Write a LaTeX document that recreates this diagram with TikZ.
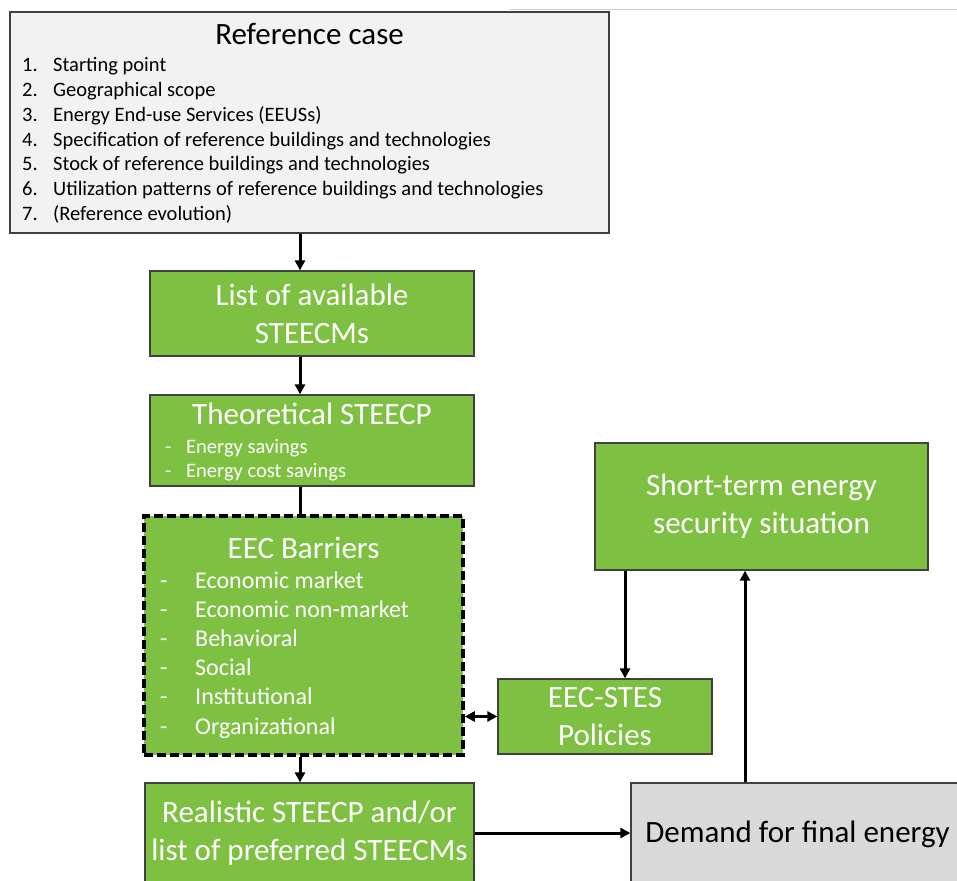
\documentclass[tikz,border=0pt]{standalone}
\usepackage{fontspec}
\setmainfont{Carlito}
\usetikzlibrary{arrows.meta}

\definecolor{boxgreen}{RGB}{126,193,66}
\definecolor{refgray}{RGB}{242,242,242}
\definecolor{demgray}{RGB}{217,217,217}

\tikzset{
  box/.style={draw=black!75, line width=1.3pt, inner sep=0pt},
  greenbox/.style={box, fill=boxgreen, text=white, align=center},
  bigtext/.style={font=\fontsize{31}{38}\selectfont},
  refitem/.style={anchor=base west, inner sep=0pt, font=\fontsize{20.5}{24}\selectfont},
  theoitem/.style={refitem, text=white, font=\fontsize{20.5}{24}\selectfont},
  barritem/.style={refitem, text=white, font=\fontsize{24}{28}\selectfont},
  flow/.style={line width=3pt, -{Triangle[length=10pt,width=10pt]}},
}

\begin{document}
\begin{tikzpicture}[x=1pt,y=-1pt]
  \useasboundingbox (0,0) rectangle (957,880);
  \clip (0,0) rectangle (957,880);
  \fill[white] (0,0) rectangle (957,880);

  \draw[black!20, line width=1pt] (510,10) -- (957,10);

  % reference case
  \node[box, fill=refgray, minimum width=599pt, minimum height=221pt] (ref) at (309.5,122.5) {};
  \node[bigtext] (reftitle) at (309.5,34) {Reference case};
  \foreach \txt [count=\i] in {Starting point, Geographical scope, {Energy End-use Services (EEUSs)},
      Specification of reference buildings and technologies, Stock of reference buildings and technologies,
      Utilization patterns of reference buildings and technologies, {(Reference evolution)}}
  {
    \node[refitem] (refnum\i) at (22,{72+24.67*(\i-1)}) {\i.};
    \node[refitem] (refitem\i) at (53,{72+24.67*(\i-1)}) {\txt};
  }

  % green boxes
  \node[greenbox, bigtext, minimum width=324pt, minimum height=85pt] (list) at (312,313.5) {List of available\\STEECMs};

  \node[greenbox, minimum width=324pt, minimum height=91pt] (theo) at (312,440.5) {};
  \node[bigtext, text=white] (theotitle) at (312,414) {Theoretical STEECP};
  \foreach \txt [count=\i] in {Energy savings, Energy cost savings}
  {
    \node[theoitem] (theodash\i) at (165,{453+24*(\i-1)}) {-};
    \node[theoitem] (theoitem\i) at (186,{453+24*(\i-1)}) {\txt};
  }

  \node[greenbox, draw=black, line width=3.5pt, dash pattern=on 9pt off 4pt,
        minimum width=319pt, minimum height=239pt] (barr) at (303.5,635.5) {};
  \node[bigtext, text=white] (barrtitle) at (303.5,548) {EEC Barriers};
  \foreach \txt [count=\i] in {Economic market, Economic non-market, Behavioral, Social, Institutional, Organizational}
  {
    \node[barritem] (barrdash\i) at (160,{588+29.2*(\i-1)}) {-};
    \node[barritem] (barritem\i) at (195,{588+29.2*(\i-1)}) {\txt};
  }

  \node[greenbox, bigtext, minimum width=329pt, minimum height=100pt] (real) at (309.5,833) {Realistic STEECP and/or\\list of preferred STEECMs};

  \node[greenbox, bigtext, minimum width=214pt, minimum height=75pt] (pol) at (605,716.5) {EEC-STES\\Policies};

  \node[greenbox, bigtext, minimum width=333pt, minimum height=127pt] (short) at (761.5,506.5) {Short-term energy\\security situation};

  \node[box, fill=demgray, bigtext, minimum width=333pt, minimum height=102pt] (dem) at (797.5,834) {Demand for final energy};

  % connectors
  \coordinate (spine) at (300,0);
  \coordinate (down) at (625,0);
  \coordinate (up) at (745,0);

  \draw[flow] (ref.south -| spine) -- (list.north -| spine);
  \draw[flow] (list.south -| spine) -- (theo.north -| spine);
  \draw[line width=3pt] (theo.south -| spine) -- (barr.north -| spine);
  \draw[flow] (barr.south -| spine) -- (real.north -| spine);
  \draw[flow, {Triangle[length=10pt,width=10pt]}-{Triangle[length=10pt,width=10pt]}] (barr.east |- pol.west) -- (pol.west);
  \draw[flow] (short.south -| down) -- (pol.north -| down);
  \draw[flow] (real.east) -- (real.east -| dem.west);
  \draw[flow] (dem.north -| up) -- (short.south -| up);
\end{tikzpicture}
\end{document}
